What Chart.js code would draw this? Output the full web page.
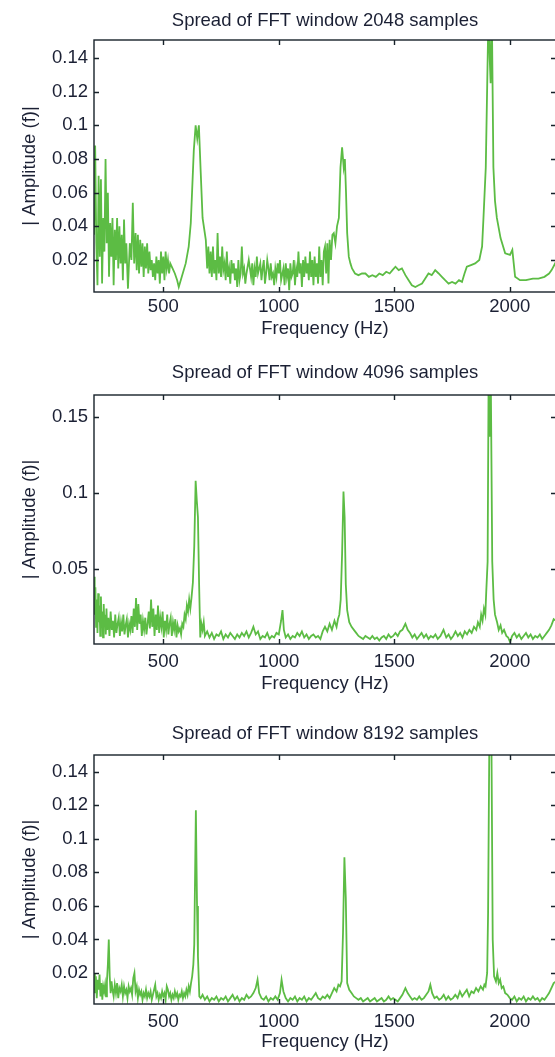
<!DOCTYPE html>
<html>
<head>
<meta charset="utf-8">
<script src="https://cdn.jsdelivr.net/npm/chart.js@4.4.1/dist/chart.umd.min.js"></script>
<style>
  html, body { margin: 0; padding: 0; background: #fff; overflow: hidden; width: 555px; height: 1057px; }
  .panel { position: absolute; left: 0; width: 600px; }
</style>
</head>
<body>
<div class="panel" style="top:0px;height:345px"><canvas id="fft2048" width="600" height="345"></canvas></div>
<div class="panel" style="top:345px;height:355px"><canvas id="fft4096" width="600" height="355"></canvas></div>
<div class="panel" style="top:700px;height:357px"><canvas id="fft8192" width="600" height="357"></canvas></div>
<script>
// x ticks shared by all three panels
const freqTicks = [500, 1000, 1500, 2000];

// --- 2048 sample window ---
const freq2048 = [
  200, 205, 210, 215, 220, 225, 230, 235, 240, 245,
  250, 255, 260, 265, 270, 275, 280, 285, 290, 295,
  300, 305, 310, 315, 320, 325, 330, 335, 340, 347,
  355, 362, 368, 374, 380, 385, 390, 395, 400, 405,
  410, 415, 420, 425, 430, 435, 440, 445, 450, 455,
  460, 465, 470, 475, 480, 485, 490, 495, 500, 505,
  510, 515, 520, 525, 530, 540, 550, 560, 567, 580,
  597, 610, 619, 632, 640, 647, 654, 662, 670, 684,
  690, 695, 700, 705, 710, 715, 720, 725, 730, 735,
  740, 745, 750, 755, 760, 765, 770, 775, 780, 785,
  790, 795, 800, 805, 810, 815, 820, 825, 830, 835,
  840, 845, 850, 855, 860, 870, 880, 885, 890, 895,
  900, 905, 910, 920, 925, 930, 935, 940, 945, 950,
  955, 960, 965, 970, 975, 980, 985, 990, 995, 1000,
  1005, 1010, 1020, 1025, 1030, 1035, 1040, 1045, 1050, 1055,
  1060, 1065, 1070, 1075, 1080, 1085, 1090, 1095, 1100, 1105,
  1110, 1115, 1120, 1125, 1130, 1135, 1140, 1145, 1150, 1155,
  1160, 1165, 1170, 1175, 1180, 1185, 1190, 1195, 1200, 1205,
  1210, 1215, 1220, 1226, 1232, 1238, 1245, 1252, 1260, 1267,
  1274, 1281, 1286, 1291, 1296, 1303, 1310, 1317, 1330, 1345,
  1360, 1375, 1390, 1405, 1420, 1435, 1450, 1465, 1480, 1492,
  1505, 1519, 1533, 1548, 1562, 1576, 1591, 1605, 1620, 1634,
  1648, 1662, 1677, 1692, 1706, 1720, 1735, 1750, 1765, 1780,
  1793, 1804, 1814, 1832, 1850, 1868, 1880, 1886, 1896, 1908,
  1913, 1917, 1922, 1929, 1936, 1944, 1960, 1980, 2001, 2011,
  2017, 2023, 2044, 2070, 2100, 2124, 2150, 2170, 2181, 2200
];
const amp2048 = [
  0.035, 0.088, 0.030, 0.005, 0.070, 0.022, 0.068, 0.006, 0.045, 0.025,
  0.080, 0.030, 0.060, 0.010, 0.042, 0.022, 0.045, 0.005, 0.038, 0.020,
  0.045, 0.015, 0.040, 0.018, 0.035, 0.008, 0.044, 0.018, 0.030, 0.003,
  0.030, 0.020, 0.054, 0.018, 0.036, 0.014, 0.035, 0.012, 0.032, 0.016,
  0.030, 0.010, 0.028, 0.015, 0.030, 0.012, 0.025, 0.014, 0.020, 0.010,
  0.018, 0.008, 0.022, 0.012, 0.020, 0.006, 0.025, 0.012, 0.022, 0.008,
  0.025, 0.015, 0.020, 0.012, 0.018, 0.015, 0.012, 0.008, 0.004, 0.010,
  0.018, 0.028, 0.042, 0.085, 0.100, 0.092, 0.100, 0.072, 0.045, 0.032,
  0.015, 0.028, 0.012, 0.025, 0.010, 0.028, 0.012, 0.020, 0.008, 0.036,
  0.012, 0.022, 0.010, 0.028, 0.014, 0.018, 0.008, 0.025, 0.010, 0.015,
  0.006, 0.020, 0.012, 0.018, 0.008, 0.015, 0.004, 0.020, 0.008, 0.012,
  0.028, 0.012, 0.015, 0.006, 0.012, 0.020, 0.010, 0.018, 0.005, 0.015,
  0.010, 0.022, 0.012, 0.018, 0.008, 0.015, 0.020, 0.006, 0.012, 0.020,
  0.015, 0.008, 0.018, 0.010, 0.012, 0.005, 0.015, 0.010, 0.018, 0.012,
  0.020, 0.008, 0.015, 0.005, 0.018, 0.010, 0.015, 0.002, 0.018, 0.010,
  0.012, 0.020, 0.005, 0.015, 0.010, 0.025, 0.012, 0.018, 0.004, 0.020,
  0.010, 0.022, 0.012, 0.018, 0.008, 0.025, 0.010, 0.020, 0.005, 0.022,
  0.010, 0.018, 0.006, 0.028, 0.010, 0.020, 0.005, 0.025, 0.028, 0.012,
  0.030, 0.006, 0.032, 0.020, 0.035, 0.036, 0.030, 0.040, 0.045, 0.075,
  0.087, 0.075, 0.080, 0.060, 0.036, 0.022, 0.018, 0.015, 0.012, 0.011,
  0.012, 0.012, 0.010, 0.011, 0.010, 0.012, 0.011, 0.013, 0.012, 0.014,
  0.016, 0.014, 0.015, 0.011, 0.008, 0.005, 0.004, 0.005, 0.006, 0.009,
  0.012, 0.011, 0.014, 0.012, 0.010, 0.008, 0.006, 0.007, 0.006, 0.008,
  0.007, 0.012, 0.016, 0.017, 0.018, 0.020, 0.028, 0.045, 0.075, 0.170,
  0.140, 0.125, 0.170, 0.075, 0.055, 0.045, 0.033, 0.024, 0.023, 0.026,
  0.018, 0.010, 0.008, 0.008, 0.009, 0.009, 0.010, 0.012, 0.014, 0.019
];

// --- 4096 sample window ---
const freq4096 = [
  200, 203, 206, 209, 212, 215, 218, 221, 224, 227,
  230, 233, 236, 239, 242, 245, 248, 251, 254, 257,
  262, 267, 272, 277, 282, 287, 292, 297, 302, 307,
  312, 317, 322, 327, 332, 337, 342, 347, 352, 357,
  362, 367, 372, 377, 382, 387, 392, 397, 402, 407,
  412, 417, 422, 427, 432, 437, 442, 447, 452, 457,
  462, 467, 472, 477, 482, 487, 492, 497, 502, 507,
  512, 517, 522, 527, 532, 537, 542, 547, 552, 557,
  562, 567, 572, 577, 582, 587, 592, 597, 602, 607,
  612, 617, 622, 628, 634, 640, 645, 650, 655, 660,
  665, 670, 675, 680, 690, 700, 710, 720, 730, 740,
  750, 760, 770, 780, 790, 800, 810, 820, 830, 840,
  850, 860, 870, 880, 890, 900, 910, 920, 930, 940,
  950, 960, 970, 980, 990, 1000, 1010, 1016, 1022, 1030,
  1040, 1050, 1060, 1070, 1080, 1090, 1100, 1110, 1120, 1130,
  1140, 1150, 1160, 1170, 1180, 1190, 1200, 1210, 1220, 1230,
  1241, 1250, 1256, 1262, 1268, 1274, 1280, 1285, 1290, 1296,
  1305, 1315, 1325, 1335, 1345, 1355, 1365, 1375, 1385, 1395,
  1405, 1415, 1425, 1435, 1445, 1455, 1465, 1475, 1485, 1495,
  1505, 1515, 1525, 1535, 1548, 1558, 1568, 1578, 1588, 1598,
  1608, 1618, 1628, 1638, 1648, 1658, 1668, 1678, 1688, 1700,
  1713, 1725, 1735, 1745, 1755, 1765, 1775, 1785, 1795, 1805,
  1815, 1825, 1835, 1845, 1855, 1862, 1870, 1876, 1882, 1888,
  1894, 1898, 1904, 1908, 1913, 1918, 1924, 1930, 1936, 1945,
  1952, 1960, 1967, 1975, 1985, 1993, 2001, 2010, 2020, 2030,
  2040, 2050, 2060, 2070, 2080, 2090, 2100, 2110, 2120, 2130,
  2140, 2150, 2160, 2170, 2180, 2190, 2200
];
const amp4096 = [
  0.045, 0.020, 0.038, 0.012, 0.030, 0.008, 0.034, 0.015, 0.026, 0.006,
  0.032, 0.012, 0.022, 0.005, 0.027, 0.014, 0.020, 0.007, 0.024, 0.010,
  0.018, 0.006, 0.022, 0.010, 0.016, 0.005, 0.020, 0.008, 0.014, 0.018,
  0.006, 0.015, 0.009, 0.020, 0.007, 0.013, 0.017, 0.005, 0.014, 0.010,
  0.019, 0.008, 0.024, 0.012, 0.031, 0.010, 0.027, 0.014, 0.020, 0.006,
  0.016, 0.010, 0.018, 0.007, 0.014, 0.022, 0.011, 0.030, 0.012, 0.024,
  0.006, 0.020, 0.010, 0.026, 0.008, 0.018, 0.012, 0.022, 0.005, 0.016,
  0.010, 0.020, 0.007, 0.014, 0.018, 0.006, 0.015, 0.010, 0.017, 0.005,
  0.013, 0.009, 0.011, 0.007, 0.014, 0.012, 0.020, 0.017, 0.026, 0.022,
  0.030, 0.024, 0.031, 0.041, 0.065, 0.108, 0.095, 0.084, 0.040, 0.005,
  0.014, 0.010, 0.015, 0.006, 0.009, 0.005, 0.008, 0.004, 0.007, 0.006,
  0.009, 0.004, 0.007, 0.005, 0.008, 0.006, 0.004, 0.007, 0.005, 0.008,
  0.006, 0.009, 0.005, 0.008, 0.012, 0.007, 0.009, 0.004, 0.006, 0.005,
  0.008, 0.004, 0.006, 0.005, 0.008, 0.007, 0.016, 0.023, 0.010, 0.005,
  0.007, 0.004, 0.006, 0.005, 0.008, 0.006, 0.009, 0.005, 0.007, 0.004,
  0.006, 0.007, 0.005, 0.006, 0.004, 0.009, 0.012, 0.009, 0.014, 0.010,
  0.016, 0.012, 0.017, 0.020, 0.030, 0.060, 0.101, 0.084, 0.040, 0.023,
  0.015, 0.012, 0.010, 0.008, 0.006, 0.005, 0.004, 0.006, 0.005, 0.004,
  0.006, 0.004, 0.005, 0.003, 0.005, 0.006, 0.004, 0.007, 0.005, 0.006,
  0.008, 0.006, 0.009, 0.010, 0.014, 0.010, 0.008, 0.005, 0.007, 0.004,
  0.006, 0.008, 0.005, 0.007, 0.004, 0.006, 0.005, 0.007, 0.004, 0.006,
  0.010, 0.005, 0.007, 0.004, 0.006, 0.009, 0.006, 0.008, 0.005, 0.009,
  0.007, 0.010, 0.008, 0.012, 0.010, 0.015, 0.012, 0.020, 0.016, 0.024,
  0.020, 0.035, 0.055, 0.170, 0.137, 0.170, 0.055, 0.030, 0.020, 0.015,
  0.010, 0.013, 0.008, 0.010, 0.006, 0.005, 0.002, 0.006, 0.008, 0.005,
  0.007, 0.004, 0.006, 0.008, 0.005, 0.007, 0.004, 0.006, 0.005, 0.007,
  0.004, 0.006, 0.008, 0.010, 0.013, 0.017, 0.016
];

// --- 8192 sample window ---
const freq8192 = [
  200, 204, 208, 212, 216, 220, 224, 228, 232, 236,
  240, 244, 248, 252, 256, 260, 264, 268, 272, 276,
  280, 285, 290, 295, 300, 305, 310, 315, 320, 325,
  330, 335, 340, 345, 350, 355, 360, 365, 370, 375,
  380, 385, 390, 395, 400, 405, 410, 415, 420, 425,
  430, 435, 440, 445, 450, 455, 460, 465, 470, 475,
  480, 485, 490, 495, 500, 505, 510, 515, 520, 525,
  530, 535, 540, 545, 550, 555, 560, 565, 570, 575,
  580, 585, 590, 595, 600, 605, 610, 615, 620, 625,
  630, 634, 641, 646, 650, 656, 662, 670, 680, 690,
  700, 710, 720, 730, 740, 750, 760, 770, 780, 790,
  800, 810, 820, 830, 840, 850, 860, 870, 880, 890,
  900, 908, 915, 925, 935, 945, 955, 965, 975, 985,
  995, 1005, 1012, 1020, 1030, 1040, 1050, 1060, 1070, 1080,
  1090, 1100, 1110, 1120, 1130, 1140, 1150, 1160, 1170, 1180,
  1190, 1200, 1210, 1220, 1230, 1240, 1250, 1258, 1265, 1272,
  1278, 1284, 1290, 1296, 1305, 1315, 1325, 1335, 1345, 1355,
  1365, 1375, 1385, 1395, 1405, 1415, 1425, 1435, 1445, 1455,
  1465, 1475, 1485, 1495, 1505, 1515, 1525, 1535, 1548, 1558,
  1568, 1578, 1588, 1598, 1608, 1618, 1628, 1638, 1648, 1656,
  1664, 1674, 1684, 1694, 1704, 1714, 1724, 1734, 1744, 1754,
  1764, 1774, 1784, 1794, 1804, 1814, 1824, 1834, 1844, 1854,
  1864, 1874, 1884, 1890, 1895, 1902, 1906, 1912, 1920, 1926,
  1932, 1940, 1946, 1952, 1958, 1965, 1972, 1980, 1990, 2000,
  2010, 2020, 2030, 2040, 2050, 2060, 2070, 2080, 2090, 2100,
  2110, 2120, 2130, 2140, 2150, 2160, 2170, 2180, 2190, 2200
];
const amp8192 = [
  0.020, 0.008, 0.018, 0.005, 0.016, 0.010, 0.019, 0.006, 0.014, 0.004,
  0.012, 0.009, 0.013, 0.006, 0.015, 0.025, 0.040, 0.018, 0.008, 0.015,
  0.010, 0.006, 0.013, 0.008, 0.014, 0.005, 0.011, 0.009, 0.013, 0.006,
  0.012, 0.008, 0.010, 0.005, 0.012, 0.009, 0.011, 0.007, 0.017, 0.020,
  0.009, 0.012, 0.005, 0.010, 0.007, 0.009, 0.004, 0.008, 0.006, 0.010,
  0.005, 0.008, 0.006, 0.009, 0.004, 0.007, 0.010, 0.013, 0.006, 0.008,
  0.004, 0.007, 0.005, 0.009, 0.006, 0.008, 0.004, 0.012, 0.010, 0.006,
  0.008, 0.004, 0.007, 0.005, 0.009, 0.006, 0.008, 0.004, 0.007, 0.006,
  0.009, 0.005, 0.008, 0.006, 0.010, 0.007, 0.012, 0.009, 0.014, 0.018,
  0.025, 0.037, 0.117, 0.060, 0.030, 0.006, 0.005, 0.007, 0.004, 0.006,
  0.003, 0.005, 0.004, 0.006, 0.003, 0.005, 0.004, 0.006, 0.003, 0.005,
  0.007, 0.004, 0.006, 0.003, 0.005, 0.004, 0.007, 0.005, 0.006, 0.008,
  0.011, 0.016, 0.008, 0.005, 0.004, 0.006, 0.003, 0.005, 0.004, 0.006,
  0.004, 0.008, 0.016, 0.009, 0.005, 0.003, 0.005, 0.004, 0.006, 0.003,
  0.005, 0.004, 0.006, 0.003, 0.005, 0.004, 0.006, 0.008, 0.005, 0.004,
  0.006, 0.005, 0.007, 0.005, 0.008, 0.011, 0.009, 0.013, 0.012, 0.015,
  0.044, 0.089, 0.065, 0.014, 0.010, 0.008, 0.006, 0.005, 0.004, 0.005,
  0.003, 0.004, 0.005, 0.003, 0.004, 0.005, 0.003, 0.004, 0.005, 0.003,
  0.004, 0.006, 0.004, 0.005, 0.004, 0.003, 0.005, 0.007, 0.011, 0.008,
  0.006, 0.004, 0.005, 0.004, 0.006, 0.004, 0.005, 0.007, 0.009, 0.013,
  0.008, 0.005, 0.006, 0.004, 0.005, 0.007, 0.004, 0.006, 0.004, 0.005,
  0.007, 0.005, 0.009, 0.006, 0.008, 0.010, 0.006, 0.009, 0.008, 0.011,
  0.009, 0.012, 0.010, 0.013, 0.012, 0.020, 0.056, 0.170, 0.170, 0.040,
  0.018, 0.015, 0.020, 0.014, 0.016, 0.011, 0.012, 0.008, 0.007, 0.005,
  0.004, 0.006, 0.003, 0.005, 0.004, 0.006, 0.003, 0.005, 0.004, 0.006,
  0.004, 0.005, 0.003, 0.005, 0.004, 0.006, 0.008, 0.011, 0.014, 0.015
];

const amp2048Ticks = [0.02, 0.04, 0.06, 0.08, 0.1, 0.12, 0.14];
const amp4096Ticks = [0.05, 0.1, 0.15];
const amp8192Ticks = [0.02, 0.04, 0.06, 0.08, 0.1, 0.12, 0.14];

const FONT = '"Liberation Sans", Arial, sans-serif';
const TEXT = '#1b2034';
const LINE = '#5cbc44';
const FRAME = '#17222a';

// matlab style box with ticks pointing inwards
const boxPlugin = {
    id: 'matlabBox',
    afterDatasetsDraw(chart) {
        const { ctx, chartArea: a, scales } = chart;
        const len = 5;
        ctx.save();
        ctx.strokeStyle = FRAME;
        ctx.lineWidth = 1.4;
        ctx.beginPath();
        scales.x.ticks.forEach(t => {
            const px = Math.round(scales.x.getPixelForValue(t.value)) + 0.5;
            ctx.moveTo(px, a.bottom); ctx.lineTo(px, a.bottom - len);
            ctx.moveTo(px, a.top); ctx.lineTo(px, a.top + len);
        });
        scales.y.ticks.forEach(t => {
            const py = Math.round(scales.y.getPixelForValue(t.value)) + 0.5;
            ctx.moveTo(a.left, py); ctx.lineTo(a.left + len, py);
            ctx.moveTo(a.right, py); ctx.lineTo(a.right - len, py);
        });
        ctx.stroke();
        ctx.strokeRect(a.left, a.top, a.right - a.left, a.bottom - a.top);
        ctx.restore();
    }
};

function makeSpectrum(id, cfg) {
    const ctx = document.getElementById(id).getContext('2d');
    const points = cfg.freq.map((f, i) => ({ x: f, y: cfg.amp[i] }));

    new Chart(ctx, {
        type: 'line',
        data: {
            datasets: [{
                data: points,
                borderColor: LINE,
                borderWidth: 1.8,
                pointRadius: 0,
                tension: 0,
                fill: false
            }]
        },
        options: {
            responsive: false,
            animation: false,
            layout: { padding: { left: 0, right: 44, top: 0, bottom: 0 } },
            plugins: {
                legend: { display: false },
                tooltip: { enabled: false },
                title: {
                    display: true,
                    text: cfg.title,
                    fullSize: false,
                    color: TEXT,
                    font: { family: FONT, size: 18.5, weight: 'normal' },
                    padding: { top: cfg.titleTop, bottom: cfg.titleBottom }
                }
            },
            scales: {
                x: {
                    type: 'linear',
                    min: 200,
                    max: 2200,
                    grid: { display: false, drawTicks: false },
                    border: { display: false },
                    afterBuildTicks: s => { s.ticks = freqTicks.map(v => ({ value: v })); },
                    afterFit: s => { s.height = cfg.xHeight; },
                    ticks: {
                        color: TEXT,
                        padding: cfg.xTickPad,
                        maxRotation: 0,
                        font: { family: FONT, size: 18.5 },
                        callback: v => String(v)
                    },
                    title: {
                        display: true,
                        text: 'Frequency (Hz)',
                        color: TEXT,
                        font: { family: FONT, size: 18.5 },
                        padding: { top: 0, bottom: cfg.xTitlePad }
                    }
                },
                y: {
                    type: 'linear',
                    min: cfg.yMin,
                    max: cfg.yMax,
                    grid: { display: false, drawTicks: false },
                    border: { display: false },
                    afterBuildTicks: s => { s.ticks = cfg.yTicks.map(v => ({ value: v })); },
                    afterFit: s => { s.width = 94; },
                    ticks: {
                        color: TEXT,
                        padding: 6,
                        font: { family: FONT, size: 18.5 },
                        callback: v => String(v)
                    },
                    title: {
                        display: true,
                        text: '| Amplitude (f)|',
                        color: TEXT,
                        font: { family: FONT, size: 18.5 },
                        padding: { top: 19, bottom: 0 }
                    }
                }
            }
        },
        plugins: [boxPlugin]
    });
}

document.addEventListener('DOMContentLoaded', () => {
    makeSpectrum('fft2048', {
        title: 'Spread of FFT window 2048 samples',
        freq: freq2048, amp: amp2048, yTicks: amp2048Ticks,
        yMin: 0.001, yMax: 0.1507,
        titleTop: 9.4, titleBottom: 8.4,
        xHeight: 53, xTickPad: 3.5, xTitlePad: 5
    });
    makeSpectrum('fft4096', {
        title: 'Spread of FFT window 4096 samples',
        freq: freq4096, amp: amp4096, yTicks: amp4096Ticks,
        yMin: 0.0007, yMax: 0.1645,
        titleTop: 16.4, titleBottom: 11.4,
        xHeight: 56, xTickPad: 7, xTitlePad: 5
    });
    makeSpectrum('fft8192', {
        title: 'Spread of FFT window 8192 samples',
        freq: freq8192, amp: amp8192, yTicks: amp8192Ticks,
        yMin: 0.0015, yMax: 0.150,
        titleTop: 22.4, titleBottom: 10.4,
        xHeight: 53, xTickPad: 7, xTitlePad: 4
    });
});
</script>
</body>
</html>
